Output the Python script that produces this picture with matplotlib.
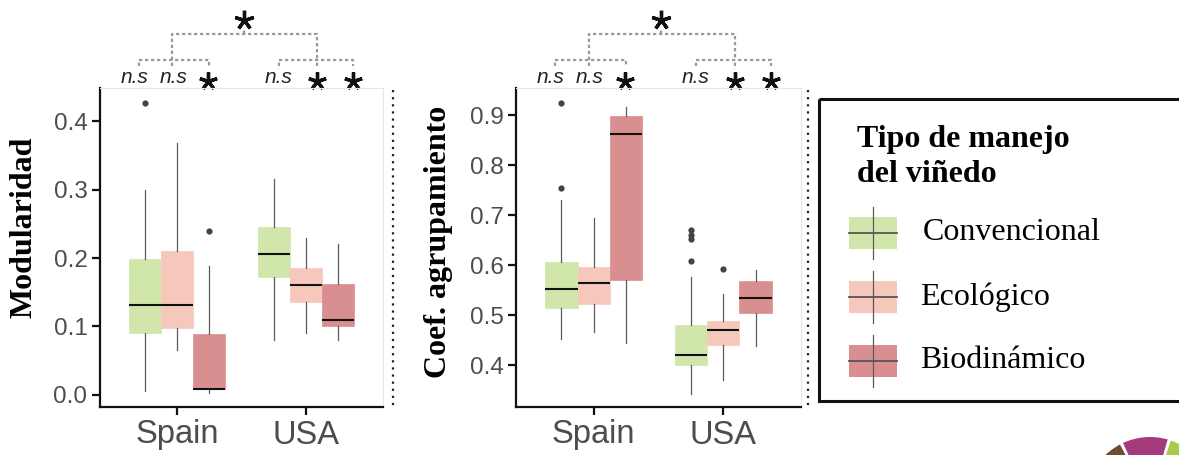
import matplotlib
matplotlib.use('Agg')
import matplotlib.pyplot as plt
from matplotlib import transforms
from matplotlib.patches import Rectangle, Wedge
from matplotlib.lines import Line2D

W, H = 1179, 455

paises = ['Spain', 'USA']
manejos = ['Convencional', 'Ecológico', 'Biodinámico']
colores = ['#d1e6aa', '#f5c8bb', '#d98f90']

# (bigote inf, Q1, mediana, Q3, bigote sup, atipicos)
mod_spain = [(0.006, 0.090, 0.132, 0.198, 0.299, [0.427]),
             (0.065, 0.098, 0.131, 0.211, 0.368, []),
             (0.003, 0.009, 0.009, 0.089, 0.189, [0.240])]
mod_usa = [(0.080, 0.172, 0.206, 0.245, 0.316, []),
           (0.091, 0.135, 0.161, 0.185, 0.230, []),
           (0.080, 0.100, 0.110, 0.162, 0.221, [])]

coef_spain = [(0.452, 0.514, 0.553, 0.606, 0.731, [0.924, 0.754]),
              (0.466, 0.522, 0.564, 0.597, 0.694, []),
              (0.445, 0.570, 0.863, 0.898, 0.916, [])]
coef_usa = [(0.343, 0.401, 0.421, 0.480, 0.577, [0.671, 0.661, 0.652, 0.609]),
            (0.371, 0.441, 0.471, 0.488, 0.542, [0.592]),
            (0.439, 0.505, 0.535, 0.568, 0.590, [])]

# significancia por caja (encima de cada panel)
sig_spain = ['n.s', 'n.s', '*']
sig_usa = ['n.s', '*', '*']

plt.rcParams['font.family'] = ['Liberation Sans', 'DejaVu Sans']

fig = plt.figure(figsize=(W / 100, H / 100), dpi=100)


def px_ax(x0, y0, x1, y1):
    return fig.add_axes([x0 / W, 1 - y1 / H, (x1 - x0) / W, (y1 - y0) / H])


def panel(ax, datos, ylim, yticks, ylabel, label_xy):
    offs = [-0.25, 0.0, 0.25]
    for g, grupo in enumerate(datos):
        for k, (lo, q1, med, q3, hi, fl) in enumerate(grupo):
            st = dict(whislo=lo, q1=q1, med=med, q3=q3, whishi=hi, fliers=fl)
            ax.bxp([st], positions=[g + 1 + offs[k]], widths=0.25,
                   patch_artist=True, showcaps=False,
                   boxprops=dict(facecolor=colores[k], edgecolor=colores[k], lw=0.5),
                   whiskerprops=dict(color='#5a5a5a', lw=0.9),
                   medianprops=dict(color='#111111', lw=1.5),
                   flierprops=dict(marker='o', markersize=4.5,
                                   markerfacecolor='#444444', markeredgecolor='none'),
                   manage_ticks=False, zorder=2)
    ax.set_xlim(0.4, 2.6)
    ax.set_ylim(*ylim)
    ax.set_xticks([1, 2])
    ax.set_xticklabels(paises)
    ax.set_yticks(yticks)
    ax.set_yticklabels(['%.1f' % v for v in yticks])
    ax.tick_params(axis='both', colors='#111111', length=6, width=1.6,
                   labelcolor='#4d4d4d')
    ax.tick_params(axis='y', labelsize=17.5, pad=3)
    ax.tick_params(axis='x', labelsize=23.5, pad=3)
    for s in ['left', 'bottom']:
        ax.spines[s].set_linewidth(1.6)
        ax.spines[s].set_color('#111111')
    for s in ['top', 'right']:
        ax.spines[s].set_linewidth(0.8)
        ax.spines[s].set_color('#e6e6e6')
    ax.set_ylabel(ylabel, fontsize=23, fontweight='bold',
                  family=['Liberation Serif', 'DejaVu Serif'])
    ax.yaxis.set_label_coords(*label_xy)

    # anotaciones de significancia
    tr = transforms.blended_transform_factory(ax.transData, fig.transFigure)
    fy = lambda p: 1 - p / H
    gris = '#9a9a9a'
    kw = dict(color=gris, lw=1.6, ls=(0, (1.5, 1.2)), transform=tr, clip_on=False)
    # corchetes interiores
    for a, m, b in [(0.70, 0.96, 1.25), (1.79, 2.09, 2.37)]:
        ax.add_line(Line2D([a, a, b, b], [fy(66), fy(60), fy(60), fy(66)], **kw))
        ax.add_line(Line2D([m, m], [fy(66), fy(60)], **kw))
    # corchete superior
    ax.add_line(Line2D([0.96, 0.96, 2.09, 2.09], [fy(60), fy(34), fy(34), fy(60)], **kw))
    ax.add_line(Line2D([1.52, 1.52], [fy(34), fy(28)], **kw))
    ax.plot([1.52], [fy(20)], marker=(5, 2, 0), ms=14, mew=2.4, color='#111111',
            transform=tr, clip_on=False)
    for xs, labs in [([0.67, 0.97, 1.24], sig_spain), ([1.79, 2.09, 2.37], sig_usa)]:
        for x, t in zip(xs, labs):
            if t == '*':
                ax.plot([x], [fy(81)], marker=(5, 2, 0), ms=13, mew=2.4,
                        color='#111111', transform=tr, clip_on=False)
            else:
                ax.text(x, fy(77), t, transform=tr, ha='center', va='center',
                        fontsize=15, style='italic', color='#222222')


ax1 = px_ax(100, 88, 383, 407)
panel(ax1, [mod_spain, mod_usa], (-0.018, 0.449), [0.0, 0.1, 0.2, 0.3, 0.4],
      'Modularidad', (-0.219, 0.564))

ax2 = px_ax(516, 88, 801, 407)
panel(ax2, [coef_spain, coef_usa], (0.316, 0.955), [0.4, 0.5, 0.6, 0.7, 0.8, 0.9],
      'Coef. agrupamiento', (-0.221, 0.517))

# separadores punteados
for xp in [393, 808]:
    fig.add_artist(Line2D([xp / W, xp / W], [1 - 90 / H, 1 - 410 / H],
                          transform=fig.transFigure, color='#222222', lw=1.6,
                          ls=(0, (1, 2.2))))

# leyenda manual
lg = px_ax(819, 99, 1179, 401)
lg.set_xlim(0, 360)
lg.set_ylim(302, 0)
lg.axis('off')
lg.add_patch(Rectangle((0, 0), 400, 302, fill=False, ec='#111111', lw=2.2,
                       clip_on=False))
serif = ['Liberation Serif', 'DejaVu Serif']
lg.text(38, 83, 'Tipo de manejo\ndel viñedo', fontsize=23, fontweight='bold',
        family=serif, va='baseline', ha='left', linespacing=1.25)
for k, (nom, c) in enumerate(zip(manejos, colores)):
    yc = 134 + k * 64
    lg.plot([54, 54], [yc - 26, yc + 26], color='#5a5a5a', lw=0.9)
    lg.add_patch(Rectangle((30, yc - 16), 48, 32, fc=c, ec='none'))
    lg.plot([30, 78], [yc, yc], color='#555555', lw=1.3)
    lg.text(104 if k == 0 else 101, yc, nom, fontsize=23, family=serif,
            va='center', ha='left')

# logo recortado en la esquina
logo = fig.add_axes([0, 0, 1, 1], zorder=-1)
logo.set_xlim(0, W)
logo.set_ylim(0, H)
logo.axis('off')
for a0, a1, c in [(118, 140, '#6e4b2c'), (74, 115, '#a33b7c'), (44, 71, '#a9cb4b')]:
    logo.add_patch(Wedge((1150, -46), 64, a0, a1, width=34, fc=c, ec='none'))

fig.savefig('out.png', dpi=100)
